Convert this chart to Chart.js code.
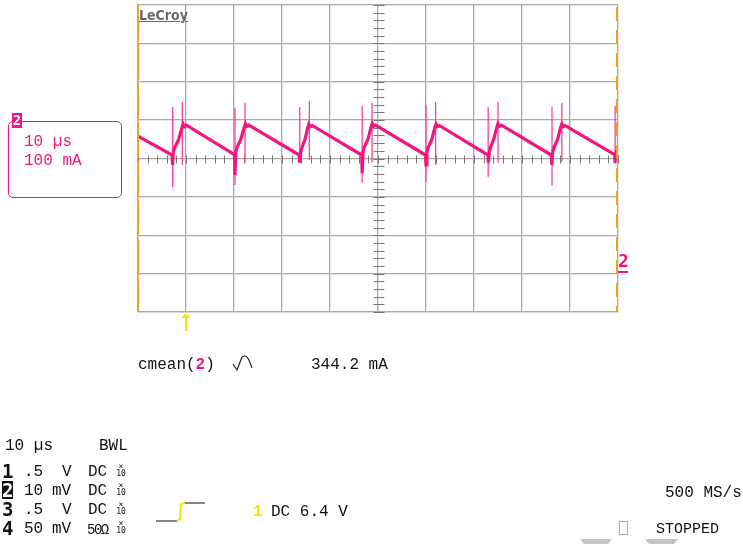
<!DOCTYPE html>
<html>
<head>
<meta charset="utf-8">
<script src="https://cdn.jsdelivr.net/npm/chart.js@4"></script>
<style>
  body { margin: 0; background: #fff; }
  #wrap { position: relative; width: 743px; height: 544px; overflow: hidden; font-family: "Liberation Mono", monospace; font-size: 16px; line-height: 16px; color: #111; }
  #scope { position: absolute; left: 0; top: 0; }
  .t { position: absolute; white-space: pre; }
  .pink { color: #f0167d; }
  .yel { color: #f2e800; }
  .ch { position: absolute; font-family: "DejaVu Sans Mono", monospace; font-weight: bold; font-size: 19px; line-height: 19px; }
  .x10 { position: absolute; font-family: "DejaVu Sans Mono", monospace; font-size: 8px; line-height: 7px; text-align: center; width: 10px; }
</style>
</head>
<body>
<div id="wrap">
  <canvas id="scope" width="743" height="544"></canvas>

  <!-- logo -->
  <div class="t" style="left:139px;top:8px;font-family:'DejaVu Sans Condensed',sans-serif;font-weight:bold;font-size:14px;line-height:14px;color:#6a6a6a;text-decoration:underline;">LeCroy</div>

  <!-- channel 2 box -->
  <div style="position:absolute;left:8px;top:121px;width:112px;height:75px;border:1px solid #f0167d;border-radius:5px;"></div>
  <div style="position:absolute;left:12px;top:113px;width:10px;height:15px;background:#f0167d;color:#fff;font-family:'DejaVu Sans Mono',monospace;font-weight:bold;font-size:14px;line-height:15px;text-align:center;">2</div>
  <div class="t pink" style="left:24px;top:134px;">10 µs</div>
  <div class="t pink" style="left:24px;top:153px;">100 mA</div>

  <!-- right ground marker -->
  <div class="t" style="left:618px;top:252px;font-family:'DejaVu Sans Mono',monospace;font-weight:bold;font-size:18px;line-height:18px;color:#f0167d;">2</div>
  <div style="position:absolute;left:618px;top:271px;width:10px;height:2px;background:#f0167d;"></div>

  <!-- trigger arrow -->
  <svg style="position:absolute;left:180px;top:312px;" width="12" height="20">
    <polygon points="6,1 1,6 11,6" fill="#f2e800"/>
    <rect x="5" y="5" width="2.5" height="14" fill="#f2e800"/>
  </svg>

  <!-- measurement -->
  <div class="t" style="left:138px;top:357px;">cmean(<span class="pink" style="font-weight:bold;">2</span>)</div>
  <svg style="position:absolute;left:231px;top:354px;" width="24" height="20">
    <polyline points="2,10 6,16 11,3" fill="none" stroke="#222" stroke-width="1.2"/>
    <path d="M11,3 Q15,0 18,6 L21,14" fill="none" stroke="#222" stroke-width="1.2"/>
  </svg>
  <div class="t" style="left:311px;top:357px;">344.2 mA</div>

  <!-- timebase / channel table -->
  <div class="t" style="left:5px;top:438px;">10 µs</div>
  <div class="t" style="left:99px;top:438px;">BWL</div>

  <div class="ch" style="left:2px;top:462px;">1</div>
  <div class="t" style="left:24px;top:464px;">.5</div>
  <div class="t" style="left:62px;top:464px;">V</div>
  <div class="t" style="left:88px;top:464px;">DC</div>
  <div class="x10" style="left:116px;top:463px;">×<br>10</div>

  <div class="ch" style="left:2px;top:481px;width:11px;height:18px;background:#111;color:#fff;line-height:18px;text-align:center;">2</div>
  <div class="t" style="left:24px;top:483px;">10</div>
  <div class="t" style="left:52px;top:483px;">mV</div>
  <div class="t" style="left:88px;top:483px;">DC</div>
  <div class="x10" style="left:116px;top:482px;">×<br>10</div>

  <div class="ch" style="left:2px;top:500px;">3</div>
  <div class="t" style="left:24px;top:502px;">.5</div>
  <div class="t" style="left:62px;top:502px;">V</div>
  <div class="t" style="left:88px;top:502px;">DC</div>
  <div class="x10" style="left:116px;top:501px;">×<br>10</div>

  <div class="ch" style="left:2px;top:519px;">4</div>
  <div class="t" style="left:24px;top:521px;">50</div>
  <div class="t" style="left:52px;top:521px;">mV</div>
  <div class="t" style="left:87px;top:522px;font-size:14px;letter-spacing:-1.5px;">50Ω</div>
  <div class="x10" style="left:116px;top:520px;">×<br>10</div>

  <!-- trigger symbol -->
  <svg style="position:absolute;left:150px;top:498px;" width="60" height="28">
    <line x1="6" y1="23" x2="27" y2="23" stroke="#444" stroke-width="1.3"/>
    <polyline points="27,23 30,21 31,6 35,5" fill="none" stroke="#f2e800" stroke-width="2.2"/>
    <line x1="35" y1="5" x2="55" y2="5" stroke="#444" stroke-width="1.3"/>
  </svg>
  <div class="t yel" style="left:253px;top:504px;font-weight:bold;">1</div>
  <div class="t" style="left:271px;top:504px;">DC 6.4 V</div>

  <div class="t" style="left:665px;top:485px;">500 MS/s</div>
  <div style="position:absolute;left:619px;top:521px;width:7px;height:12px;border:1px solid #aaa;"></div>
  <div class="t" style="left:656px;top:522px;font-size:15px;">STOPPED</div>

  <div style="position:absolute;left:580px;top:539px;width:32px;height:6px;background:#c4c4c4;clip-path:polygon(0 0,100% 0,85% 100%,15% 100%);"></div>
  <div style="position:absolute;left:645px;top:539px;width:33px;height:6px;background:#c4c4c4;clip-path:polygon(0 0,100% 0,85% 100%,15% 100%);"></div>
</div>

<script>
// Channel 2 current trace (time in µs, current in mA)
const traceTime = [
  0,
  7.1, 7.2, 7.35, 7.7, 8.4, 9.1, 9.4, 9.7, 10.1,
  20.1, 20.2, 20.4, 20.7, 21.4, 22.1, 22.4, 22.7, 23.1,
  33.6, 33.7, 33.9, 34.2, 34.8, 35.3, 35.6, 35.9, 36.3,
  46.6, 46.7, 46.9, 47.2, 47.9, 48.5, 48.8, 49.1, 49.5,
  59.9, 60.0, 60.2, 60.5, 61.2, 61.8, 62.1, 62.4, 62.8,
  72.9, 73.0, 73.2, 73.5, 74.1, 74.7, 75.0, 75.3, 75.7,
  86.1, 86.2, 86.4, 86.7, 87.4, 88.0, 88.3, 88.6, 89.0,
  99.3, 99.4, 99.6, 100
];
const traceCurrent = [
  358,
  309, 283, 316, 330, 348, 378, 390, 383, 387,
  310, 257, 318, 331, 349, 380, 391, 384, 387,
  309, 289, 317, 330, 350, 378, 390, 383, 386,
  309, 262, 318, 331, 350, 379, 391, 384, 387,
  309, 283, 317, 330, 349, 379, 390, 383, 386,
  309, 289, 318, 331, 350, 379, 391, 384, 387,
  309, 283, 317, 330, 349, 379, 390, 383, 386,
  310, 289, 316, 330
];

// Switching spikes (thin vertical glitches)
const spikeTime   = [7.22, 9.23, 20.2, 22.3, 33.7, 35.7, 46.7, 48.75, 60.0, 62.0, 72.95, 75.0, 86.25, 88.3, 99.4];
const spikeTop    = [434, 447, 432, 445, 434, 450, 437, 445, 440, 447, 434, 447, 434, 445, 437];
const spikeBottom = [226, 283, 231, 289, 289, 296, 236, 289, 239, 283, 252, 289, 229, 291, 286];

// Screen: 10 div x 10 µs, 8 div x 100 mA
const timeMin = 0, timeMax = 100, timeDiv = 10;
const currentMin = -100, currentMax = 700, currentDiv = 100;

const PINK = '#f0167d';
const GRID = '#a9a9a9';
const ORANGE = '#efa21e';

const tracePoints = traceTime.map((t, i) => ({ x: t, y: traceCurrent[i] }));
const spikePoints = [];
spikeTime.forEach((t, i) => {
  spikePoints.push({ x: t, y: spikeTop[i] }, { x: t, y: spikeBottom[i] }, { x: t, y: null });
});

// minor ticks on the centre cross + orange edge markers
const scopeMarks = {
  id: 'scopeMarks',
  beforeDatasetsDraw(chart) {
    const { ctx, scales: { x, y } } = chart;
    const cx = Math.round(x.getPixelForValue(50)) + 0.5;
    const cy = Math.round(y.getPixelForValue(300)) + 0.5;
    ctx.save();
    ctx.strokeStyle = '#777';
    ctx.lineWidth = 1;
    ctx.beginPath();
    for (let t = timeMin; t <= timeMax; t += 2) {
      const px = Math.round(x.getPixelForValue(t)) + 0.5;
      ctx.moveTo(px, cy - 4); ctx.lineTo(px, cy + 4);
    }
    for (let v = currentMin; v <= currentMax; v += 20) {
      const py = Math.round(y.getPixelForValue(v)) + 0.5;
      ctx.moveTo(cx - 5, py); ctx.lineTo(cx + 6, py);
    }
    ctx.stroke();
    ctx.restore();
  },
  afterDatasetsDraw(chart) {
    const { ctx, chartArea: a } = chart;
    ctx.save();
    ctx.strokeStyle = ORANGE;
    ctx.lineWidth = 2;
    ctx.setLineDash([36, 3]);
    ctx.beginPath();
    ctx.moveTo(a.left, a.top); ctx.lineTo(a.left, a.bottom);
    ctx.stroke();
    ctx.setLineDash([14, 9]);
    ctx.lineDashOffset = -2;
    ctx.beginPath();
    ctx.moveTo(a.right - 1, a.top); ctx.lineTo(a.right - 1, a.bottom);
    ctx.stroke();
    ctx.restore();
  }
};

new Chart(document.getElementById('scope'), {
  type: 'line',
  data: {
    datasets: [
      {
        data: tracePoints,
        borderColor: PINK,
        borderWidth: 3.2,
        pointRadius: 0,
        tension: 0
      },
      {
        data: spikePoints,
        borderColor: '#ff3f98',
        borderWidth: 1.3,
        pointRadius: 0,
        spanGaps: false
      }
    ]
  },
  options: {
    responsive: false,
    animation: false,
    layout: { padding: { left: 138, top: 5, right: 125, bottom: 232 } },
    plugins: { legend: { display: false }, tooltip: { enabled: false } },
    scales: {
      x: {
        type: 'linear',
        min: timeMin, max: timeMax,
        ticks: { display: false, stepSize: timeDiv },
        grid: { color: GRID, lineWidth: 1.3, drawTicks: false },
        border: { color: GRID, width: 1.3 }
      },
      y: {
        min: currentMin, max: currentMax,
        ticks: { display: false, stepSize: currentDiv },
        grid: { color: GRID, lineWidth: 1.3, drawTicks: false },
        border: { color: GRID, width: 1.3 }
      }
    }
  },
  plugins: [scopeMarks]
});
</script>
</body>
</html>
